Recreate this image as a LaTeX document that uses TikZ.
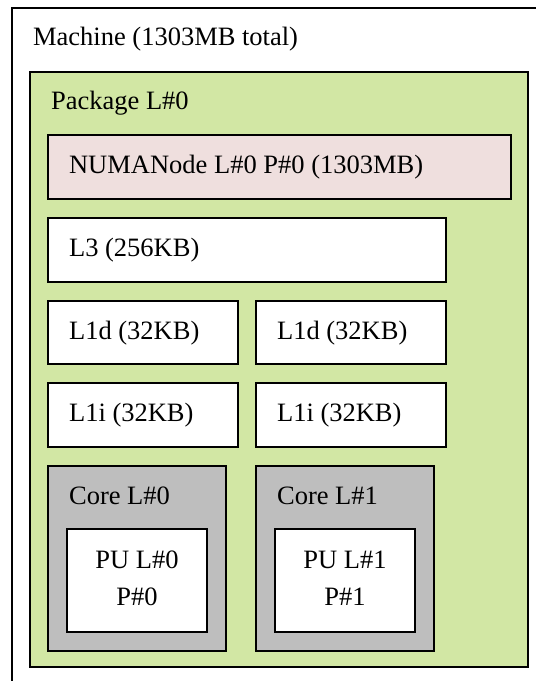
\documentclass[tikz,border=0pt]{standalone}
\usepackage{fontspec}
\setmainfont{Liberation Serif}
\usepackage{xcolor}
\usepackage{tikz}

\definecolor{pkggreen}{HTML}{D2E7A4}
\definecolor{numapink}{HTML}{EFDFDE}
\definecolor{coregray}{HTML}{BEBEBE}

\begin{document}
\begin{tikzpicture}[x=1pt,y=-1pt,line width=2.2pt,
   font=\fontsize{26.5}{31}\selectfont,
   obj/.style={draw=black,fill=white},
   pkg/.style={draw=black,fill=pkggreen},
   numa/.style={draw=black,fill=numapink},
   core/.style={draw=black,fill=coregray},
   lbl/.style={anchor=base west,inner sep=0pt},
   pulbl/.style={anchor=base,inner sep=0pt}]
  \useasboundingbox (0,0) rectangle (536,681);
  \fill[white] (0,0) rectangle (536,681);
  % machine
  \draw (536,8) -- (12,8) -- (12,681);
  \node[lbl] (machine) at (32,45) {Machine (1303MB total)};
  % package
  \filldraw[pkg] (30,72) rectangle (528,667);
  \node[lbl] (package) at (50,109) {Package L\#0};
  % numa node
  \filldraw[numa] (48,135) rectangle (511,199);
  \node[lbl] (numanode) at (68,173) {NUMANode L\#0 P\#0 (1303MB)};
  % caches
  \filldraw[obj] (48,218) rectangle (446,282);
  \node[lbl] (lthree) at (68,256) {L3 (256KB)};
  \filldraw[obj] (48,301) rectangle (238,364);
  \node[lbl] (lonedA) at (68,339) {L1d (32KB)};
  \filldraw[obj] (256,301) rectangle (446,364);
  \node[lbl] (lonedB) at (276,339) {L1d (32KB)};
  \filldraw[obj] (48,383) rectangle (238,447);
  \node[lbl] (loneiA) at (68,421) {L1i (32KB)};
  \filldraw[obj] (256,383) rectangle (446,447);
  \node[lbl] (loneiB) at (276,421) {L1i (32KB)};
  % cores and PUs
  \filldraw[core] (48,466) rectangle (226,651);
  \node[lbl] (coreA) at (68,504) {Core L\#0};
  \filldraw[obj] (67,529) rectangle (207,632);
  \node[pulbl] (puA) at (137,568) {PU L\#0};
  \node[pulbl] (puApos) at (137,605) {P\#0};
  \filldraw[core] (256,466) rectangle (434,651);
  \node[lbl] (coreB) at (276,504) {Core L\#1};
  \filldraw[obj] (275,529) rectangle (415,632);
  \node[pulbl] (puB) at (345,568) {PU L\#1};
  \node[pulbl] (puBpos) at (345,605) {P\#1};
\end{tikzpicture}
\end{document}
